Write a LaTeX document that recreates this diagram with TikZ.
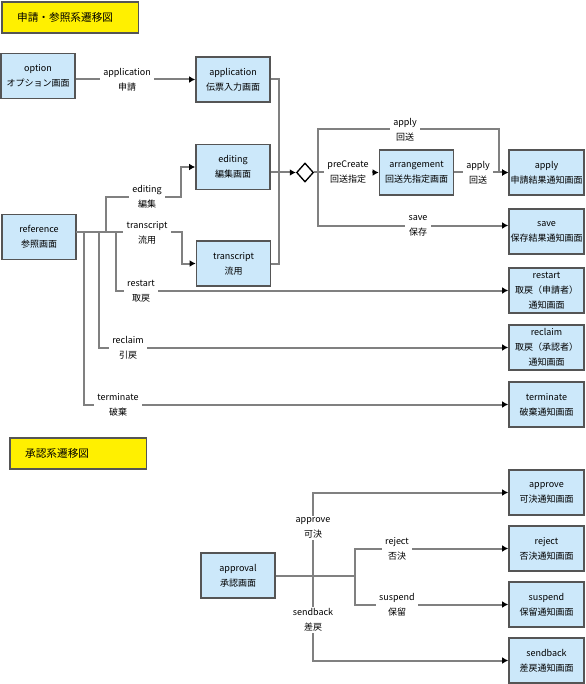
\documentclass[tikz,border=0pt]{standalone}
\usepackage{fontspec}
\setmainfont{Noto Sans CJK JP}
\usetikzlibrary{arrows.meta,shapes.geometric}
\definecolor{boxblue}{RGB}{204,232,250}
\definecolor{boxline}{RGB}{85,85,85}
\definecolor{linegray}{RGB}{128,128,128}
\definecolor{titleyellow}{RGB}{255,240,0}
\begin{document}
\begin{tikzpicture}[x=0.75pt,y=-0.75pt,
  box/.style={draw=boxline, fill=boxblue, line width=1.2pt, minimum width=55.5pt, minimum height=33.75pt, inner sep=0pt, align=center, font=\fontsize{6.75}{11.25}\selectfont},
  rbox/.style={box, minimum width=56.25pt},
  lab/.style={fill=white, inner xsep=2.5pt, inner ysep=1pt, align=center, font=\fontsize{6.75}{11.25}\selectfont},
  conn/.style={draw=linegray, line width=1.5pt},
  arr/.style={conn, -{Latex[length=4.5pt,width=5pt,color=black]}},
  ttl/.style={draw=boxline, fill=titleyellow, line width=1.2pt, anchor=north west, align=left, font=\fontsize{8}{10}\selectfont, inner xsep=11.5pt, minimum height=23.5pt, text width=79.5pt},
  dec/.style={diamond, draw=black, fill=white, line width=1pt, minimum width=12.75pt, minimum height=14.25pt, inner sep=0pt}
]
\useasboundingbox (0,0) rectangle (585,684);

% titles
\node[ttl] (t1) at (1,1) {申請・参照系遷移図};
\node[ttl] (t2) at (9,437) {承認系遷移図};

% boxes, upper part
\node[box] (option) at (38,76) {option\\オプション画面};
\node[box] (application) at (233,79.5) {application\\伝票入力画面};
\node[box] (editing) at (233,167) {editing\\編集画面};
\node[box] (transcript) at (233.5,263.5) {transcript\\流用};
\node[box] (reference) at (39,237) {reference\\参照画面};
\node[box] (arrangement) at (416.5,172.5) {arrangement\\回送先指定画面};
\node[rbox] (apply) at (546.5,172.5) {apply\\申請結果通知画面};
\node[rbox] (save) at (546.5,231.5) {save\\保存結果通知画面};
\node[rbox] (restart) at (546.5,290.5) {restart\\取戻（申請者）\\通知画面};
\node[rbox] (reclaim) at (546.5,347.5) {reclaim\\取戻（承認者）\\通知画面};
\node[rbox] (terminate) at (546.5,404.5) {terminate\\破棄通知画面};
\node[dec] (dia) at (305,172.5) {};

% boxes, lower part
\node[box] (approval) at (238,575.5) {approval\\承認画面};
\node[rbox] (approve) at (546.5,492.5) {approve\\可決通知画面};
\node[rbox] (reject) at (546.5,548.5) {reject\\否決通知画面};
\node[rbox] (suspend) at (546.5,604.5) {suspend\\保留通知画面};
\node[rbox] (sendback) at (546.5,660.5) {sendback\\差戻通知画面};

% junction coordinates
\coordinate (bus) at (279,172.5);
\coordinate (r0) at (76,232);
\coordinate (jT) at (84,232);
\coordinate (jR) at (99,232);
\coordinate (jE) at (106,232);
\coordinate (jS) at (116,232);
\coordinate (eB) at (181,197);
\coordinate (tB) at (182,232);
\coordinate (jd) at (318,172.5);
\coordinate (aT) at (499,129);
\coordinate (sIn) at ([yshift=4.5pt]save.west);
\coordinate (ja) at (313,575.5);
\coordinate (jb) at (355,575.5);

% connectors, upper part
\draw[arr] (option.east |- application.west) -- (application.west);
\draw[conn] (application.east) -| (bus);
\draw[conn] (transcript.east) -| (bus);
\draw[conn] (editing.east |- bus) -- (bus);
\draw[arr] (bus) -- (dia.west);

\draw[arr] (r0) -- (tB) |- (transcript.west);
\draw[arr] (jE) |- (eB) |- (editing.west);
\draw[arr] (jS) |- (restart.west);
\draw[arr] (jR) |- (reclaim.west);
\draw[arr] (jT) |- (terminate.west);

\draw[arr] (dia.east) -- (arrangement.west);
\draw[arr] (jd) |- (aT) |- (apply.west);
\draw[arr] (arrangement.east) -- (apply.west);
\draw[arr] (jd) |- (sIn);

% connectors, lower part
\draw[conn] (approval.east) -- (jb);
\draw[arr] (ja) |- (approve.west);
\draw[arr] (ja) |- (sendback.west);
\draw[arr] (jb) |- (reject.west);
\draw[arr] (jb) |- (suspend.west);

% labels
\node[lab] (lApp) at (127,80) {application\\申請};
\node[lab] (lEd) at (147,197) {editing\\編集};
\node[lab] (lTr) at (147,233) {transcript\\流用};
\node[lab] (lRs) at (141,291) {restart\\取戻};
\node[lab] (lRc) at (128,348) {reclaim\\引戻};
\node[lab] (lTm) at (118,404.5) {terminate\\破棄};
\node[lab] (lAp1) at (405,130) {apply\\回送};
\node[lab] (lPc) at (348,172.5) {preCreate\\回送指定};
\node[lab] (lAp2) at (478,172.5) {apply\\回送};
\node[lab] (lSv) at (418,225.5) {save\\保存};
\node[lab] (lApv) at (313,528) {approve\\可決};
\node[lab] (lSb) at (313,620) {sendback\\差戻};
\node[lab] (lRj) at (397,548.5) {reject\\否決};
\node[lab] (lSp) at (397,604.5) {suspend\\保留};
\end{tikzpicture}
\end{document}
